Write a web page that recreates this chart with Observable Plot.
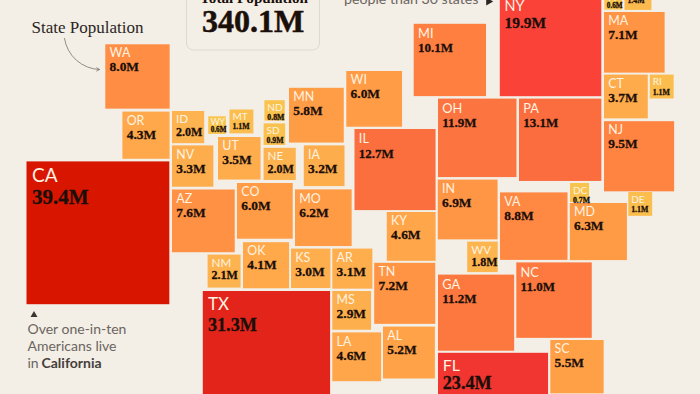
<!DOCTYPE html>
<html>
<head>
<meta charset="utf-8">
<style>
html,body{margin:0;padding:0;background:#F3EEE6;overflow:hidden;width:700px;height:394px}
#c{width:700px;height:394px}
svg{display:block;background:#F3EEE6}
</style>
<script src="https://cdn.jsdelivr.net/npm/d3@7"></script>
<script src="https://cdn.jsdelivr.net/npm/@observablehq/plot@0.6"></script>
</head>
<body>
<div id="c"></div>
<script>
const states = ["WA","OR","CA","ID","WY","MT","ND","SD","MN","NV","UT","NE","IA","AZ","CO","MO","NM","OK","KS","AR","TX","MS","LA","WI","IL","MI","IN","OH","KY","WV","TN","AL","GA","FL","NY","PA","VA","DC","MD","DE","NC","SC","NJ","CT","RI","MA","VT","NH"];
const population = [8.0,4.3,39.4,2.0,0.6,1.1,0.8,0.9,5.8,3.3,3.5,2.0,3.2,7.6,6.0,6.2,2.1,4.1,3.0,3.1,31.3,2.9,4.6,6.0,12.7,10.1,6.9,11.9,4.6,1.8,7.2,5.2,11.2,23.4,19.9,13.1,8.8,0.7,6.3,1.1,11.0,5.5,9.5,3.7,1.1,7.1,0.6,1.4];
// cartogram layout: top-left corner of each state's square on the map
const mapLeft = [105.3,122.4,26.5,172,208.2,229.5,264.4,263.6,289,172,218,263.6,303.8,172,237,295,207.6,243,291,332.3,202.8,332.3,332.3,346.3,354.5,413.7,437.8,438,386.8,467.2,374.2,383,438,438,499.8,519,500,570,569.8,628.3,516.3,550.3,604,604,649.8,604,604.3,624.5];
const mapTop = [44.3,111.6,161.4,111,116.3,109.5,100.2,123.4,87.8,145.4,137,147.8,145.4,189.5,183,189.4,254.6,242.2,248.6,248.6,291,291,332.4,71,129,23.8,179.6,98.6,212,241.6,262.8,326.6,274.6,352.8,-5.3,98.6,192.4,183,203,192,262.4,340,121.2,74.6,74.6,12,-8,-17];
const sideScale = 22.75; // square side grows with the root of population

const colorStops = [0.6,1.1,2,4.3,6,8,10.1,12.7,19.9,23.4,31.3,39.4];
const colorRamp = ["#F8C64E","#FBBE4E","#FDB34F","#FFA84B","#FF9C45","#FF8E44","#FF7F40","#FB6F3E","#FB4239","#F13530","#E3241A","#D81600"];

function tier(p){
  if (p <= 0.65) return {lab:8.6,val:7.2,pad:2,ld:8.2,vd:15};
  if (p <= 1.5)  return {lab:10,val:7.8,pad:2.4,ld:10.2,vd:19.4};
  if (p < 2.5)   return {lab:11.6,val:12,pad:3.5,ld:11.6,vd:24.2};
  if (p < 10)    return {lab:12.4,val:13.4,pad:3.8,ld:12.6,vd:26.6};
  if (p < 18)    return {lab:12.8,val:13,pad:3.8,ld:13.6,vd:28};
  if (p < 22)    return {lab:14.4,val:15.4,pad:4.2,ld:15.6,vd:33};
  if (p < 28)    return {lab:16,val:18.2,pad:4.2,ld:17.2,vd:36};
  if (p < 35)    return {lab:17,val:18.2,pad:4.6,ld:18.6,vd:39.6};
  return {lab:19,val:21,pad:5,ld:20.4,vd:42};
}

const rows = states.map((s,i)=>{
  const side = sideScale*Math.sqrt(population[i]);
  return {s, pop:population[i], value:population[i].toFixed(1)+"M", l:mapLeft[i], t:mapTop[i], side, ...tier(population[i])};
});

const sansF = "Lato, sans-serif";
const serifF = "'Liberation Serif', serif";
const ink = "#1B0F0A";

const calloutLines = ["Over one-in-ten","Americans live","in "];
const calloutY = [333.5,350.5,367.5];
const calloutX = 27;

const plot = Plot.plot({
  width:700,height:394,margin:0,
  style:{background:"#F3EEE6"},
  x:{domain:[0,700],range:[0,700],axis:null},
  y:{domain:[0,394],range:[0,394],axis:null},
  color:{type:"linear",domain:colorStops,range:colorRamp},
  marks:[
    // total box
    Plot.rect([0],{x1:()=>186.5,x2:()=>319.5,y1:()=>-30,y2:()=>50,rx:7,fill:"#F3EEE6",stroke:"#DED9CF",strokeWidth:1}),
    Plot.text(["Total Population"],{x:()=>253.5,y:()=>2,text:d=>d,fontFamily:serifF,fontWeight:"bold",fontSize:15.2,fill:ink,textAnchor:"middle",lineAnchor:"bottom"}),
    Plot.text(["340.1M"],{x:()=>252.5,y:()=>31,text:d=>d,fontFamily:serifF,fontWeight:"bold",fontSize:32,fill:ink,stroke:ink,strokeWidth:.5,textAnchor:"middle",lineAnchor:"bottom"}),
    // squares
    Plot.rect(rows,{x1:"l",y1:"t",x2:d=>d.l+d.side,y2:d=>d.t+d.side,fill:"pop"}),
    Plot.text(rows,{x:d=>d.l+d.pad,y:d=>d.t+d.ld,text:"s",fontFamily:sansF,fontSize:d=>d.lab,fill:"#FFF3E2",textAnchor:"start",lineAnchor:"bottom"}),
    Plot.text(rows,{x:d=>d.l+d.pad,y:d=>d.t+d.vd,text:"value",fontFamily:serifF,fontWeight:"bold",fontSize:d=>d.val,fill:ink,stroke:ink,strokeWidth:.3,textAnchor:"start",lineAnchor:"bottom"}),
    // notes
    Plot.text(["State Population"],{x:()=>31,y:()=>32,text:d=>d,fontFamily:serifF,fontSize:17,fill:"#2A2622",textAnchor:"start",lineAnchor:"bottom"}),
    Plot.arrow([0],{x1:()=>64,y1:()=>38,x2:()=>99,y2:()=>69,bend:-40,stroke:"#77726B",strokeWidth:.8,headLength:6}),
    Plot.text(["people than 30 states"],{x:()=>343.5,y:()=>3,text:d=>d,fontFamily:sansF,fontSize:14.2,fill:"#6B655F",textAnchor:"start",lineAnchor:"bottom"}),
    Plot.dot([0],{x:()=>488,y:()=>1,symbol:"triangle",rotate:90,r:3,fill:"#2A2622"}),
    Plot.dot([0],{x:()=>33.5,y:()=>314.5,symbol:"triangle",r:2.6,fill:"#3A3530"}),
    Plot.text(calloutLines,{x:()=>calloutX,y:(d,i)=>calloutY[i],text:d=>d,fontFamily:sansF,fontSize:14,fill:"#6B655F",textAnchor:"start",lineAnchor:"bottom"}),
    Plot.text(["California"],{x:()=>41,y:()=>calloutY[2],text:d=>d,fontFamily:sansF,fontWeight:"bold",fontSize:14,fill:"#45403B",textAnchor:"start",lineAnchor:"bottom"})
  ]
});
document.getElementById("c").appendChild(plot);
</script>
</body>
</html>
